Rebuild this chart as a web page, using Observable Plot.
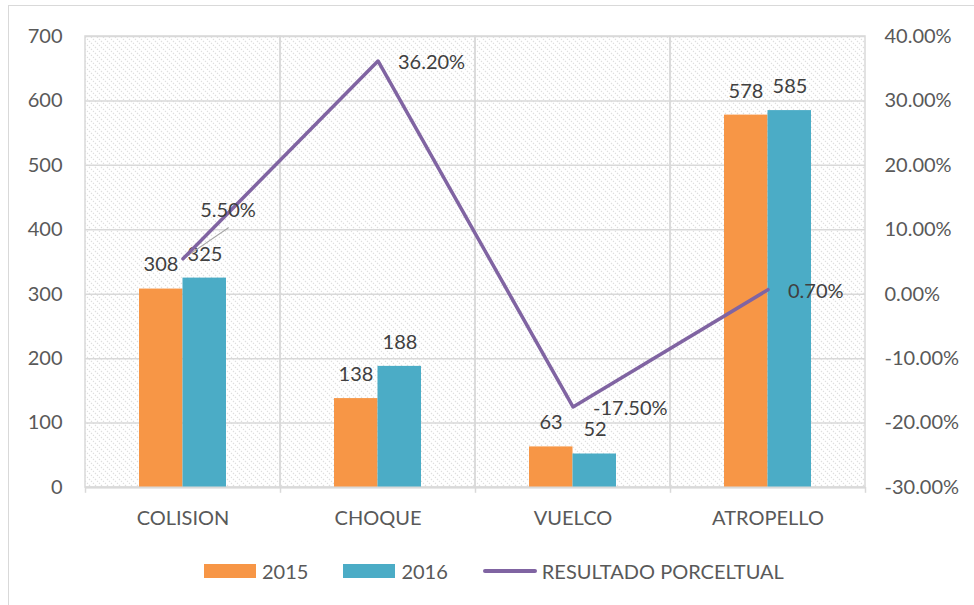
<!DOCTYPE html>
<html><head><meta charset="utf-8">
<script src="https://cdn.jsdelivr.net/npm/d3@7"></script>
<script src="https://cdn.jsdelivr.net/npm/@observablehq/plot@0.6"></script>
<style>
body{margin:0;background:#fff;font-family:Lato,"Noto Sans",sans-serif;}
#wrap{position:relative;width:974px;height:605px;overflow:hidden;background:#fff;}
#frame{position:absolute;left:8px;top:5px;width:1000px;height:700px;border:1.5px solid #d9d9d9;box-sizing:border-box;}
#chart{position:absolute;left:0;top:0;}
#legend{position:absolute;left:204px;top:559px;height:24px;line-height:24px;display:flex;align-items:center;font-size:20px;color:#595959;white-space:nowrap;}
#legend .sw{display:inline-block;width:52px;height:14px;margin-right:6px;}
#legend .ln{display:inline-block;width:54px;height:4px;border-radius:2px;background:#8064A2;margin-right:5px;margin-left:35px;}
</style>
</head><body>
<div id="wrap"><div id="frame"></div><div id="chart"></div>
<div id="legend">
<span class="sw" style="background:#F79646"></span><span>2015</span>
<span class="sw" style="background:#4BACC6;margin-left:35px"></span><span>2016</span>
<span class="ln"></span><span>RESULTADO PORCELTUAL</span>
</div></div>
<script>
const categories = ["COLISION", "CHOQUE", "VUELCO", "ATROPELLO"];
const values2015 = [308, 138, 63, 578];
const values2016 = [325, 188, 52, 585];
const pctChange = [5.5, 36.2, -17.5, 0.7];
const pctLabels = ["5.50%", "36.20%", "-17.50%", "0.70%"];
const leftTicks = [0, 100, 200, 300, 400, 500, 600, 700];
const rightTickLabels = ["-30.00%", "-20.00%", "-10.00%", "0.00%", "10.00%", "20.00%", "30.00%", "40.00%"];

// right axis spans -30%..40% over the left 0..700 range
const toLeft = p => (p + 30) * 10;

const rows2015 = categories.map((c, i) => ({cat: c, v: values2015[i]}));
const rows2016 = categories.map((c, i) => ({cat: c, v: values2016[i]}));
const lineRows = categories.map((c, i) => ({cat: c, y: toLeft(pctChange[i]), label: pctLabels[i]}));

const grid = "#d9d9d9";
const half = 97.5;

const chart = Plot.plot({
  width: 974,
  height: 545,
  marginLeft: 85,
  marginRight: 109,
  marginTop: 36,
  marginBottom: 58,
  style: {fontFamily: "Lato, 'Noto Sans', sans-serif", fontSize: "20px", color: "#595959", background: "transparent"},
  x: {type: "band", domain: categories, padding: 0},
  y: {domain: [0, 700]},
  marks: [
    Plot.barY(categories, {x: d => d, y1: 0, y2: 700, fill: "url(#hatch)", stroke: grid, strokeWidth: 1.5}),
    Plot.ruleY(leftTicks, {stroke: grid, strokeWidth: 1.5}),
    Plot.ruleX(categories, {x: d => d, y1: 0, y2: -9, dx: -half, stroke: grid, strokeWidth: 1.5}),
    Plot.ruleX([categories[categories.length - 1]], {x: d => d, y1: 0, y2: -9, dx: half, stroke: grid, strokeWidth: 1.5}),
    Plot.barY(rows2015, {x: "cat", y: "v", fill: "#F79646", insetLeft: 54, insetRight: 97.5}),
    Plot.barY(rows2016, {x: "cat", y: "v", fill: "#4BACC6", insetLeft: 97.5, insetRight: 54}),
    Plot.ruleY([0], {stroke: grid, strokeWidth: 2}),
    Plot.text(rows2015, {x: "cat", y: "v", text: d => String(d.v), dx: -22, dy: -24, fill: "#404040", fontSize: 20}),
    Plot.text(rows2016, {x: "cat", y: "v", text: d => String(d.v), dx: 22, dy: -24, fill: "#404040", fontSize: 20}),
    Plot.vector([lineRows[0]], {x: "cat", y: "y", length: 55, rotate: 55.7, anchor: "start", stroke: "#a6a6a6", strokeWidth: 1,
      shape: {draw(ctx, l) { ctx.moveTo(0, 0); ctx.lineTo(0, -l); }}}),
    Plot.line(lineRows, {x: "cat", y: "y", stroke: "#8064A2", strokeWidth: 3.5}),
    Plot.text([lineRows[0]], {x: "cat", y: "y", text: "label", dx: 45, dy: -48, fill: "#404040", fontSize: 20}),
    Plot.text(lineRows.slice(1), {x: "cat", y: "y", text: "label", dx: 20, dy: 2, textAnchor: "start", fill: "#404040", fontSize: 20}),
    Plot.axisY({ticks: leftTicks, tickSize: 0, tickPadding: 23, label: null, fontSize: 20}),
    Plot.axisY({anchor: "right", ticks: leftTicks, tickSize: 0, tickPadding: 19, label: null, fontSize: 20,
      tickFormat: d => rightTickLabels[leftTicks.indexOf(d)]}),
    Plot.axisX({tickSize: 0, tickPadding: 23, label: null, fontSize: 20})
  ]
});

d3.select(chart).insert("defs", ":first-child").html(
  '<pattern id="hatch" patternUnits="userSpaceOnUse" width="6" height="6">' +
  '<path d="M-1,-1 L7,7 M-1,5 L1,7 M5,-1 L7,1" stroke="#dcdcdc" stroke-width="1.1" stroke-dasharray="1.4 1.4"/></pattern>');

document.getElementById("chart").appendChild(chart);
</script>
</body></html>
